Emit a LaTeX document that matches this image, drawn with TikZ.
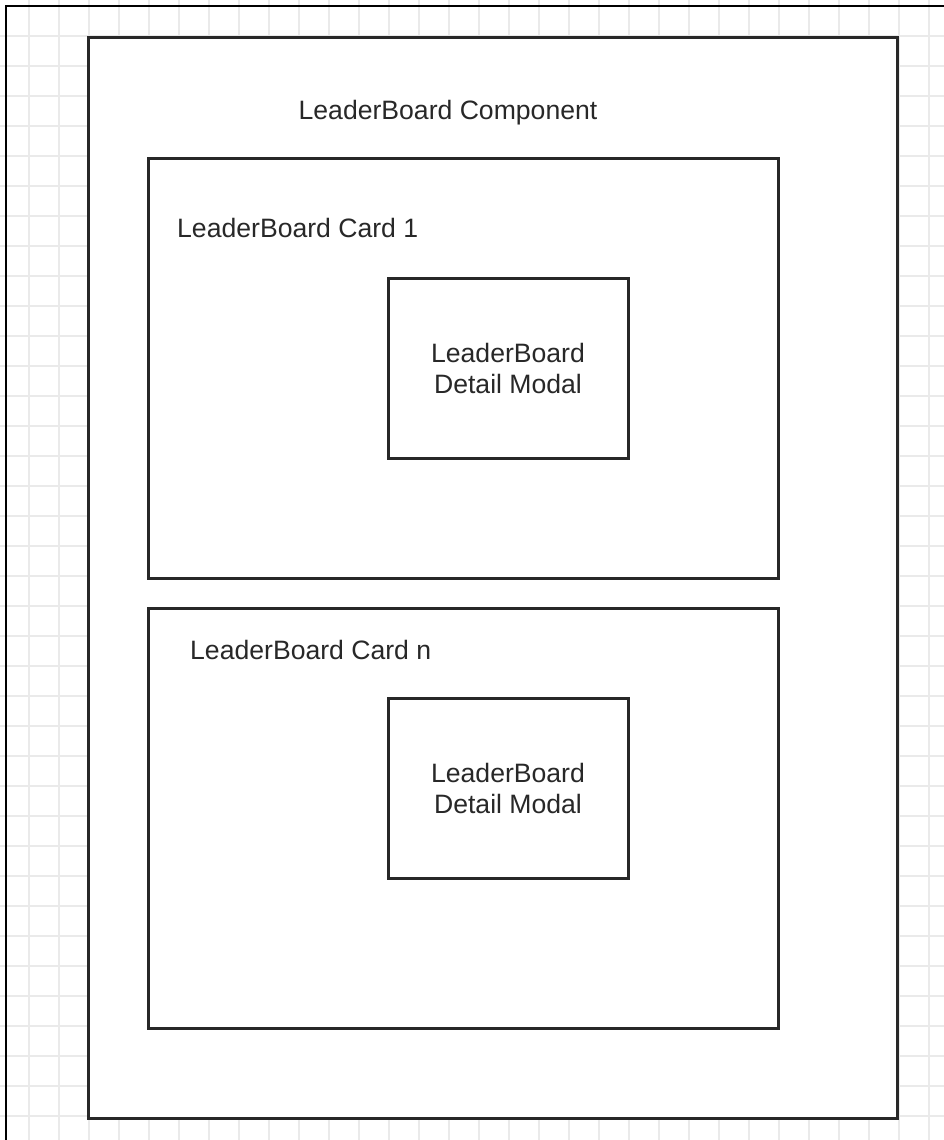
\documentclass[tikz,border=0pt]{standalone}
\usepackage{fontspec}
\setmainfont{Liberation Sans}
\usepackage{xcolor}
\usetikzlibrary{positioning}
\definecolor{boxline}{RGB}{40,40,40}
\definecolor{gridgray}{RGB}{234,234,234}
\definecolor{textgray}{RGB}{40,40,40}

\begin{document}
\begin{tikzpicture}[x=1pt, y=-1pt,
		gridline/.style={gridgray, line width=1.2pt},
		frameline/.style={black, line width=2.2pt},
		component/.style={draw=boxline, fill=white, line width=3pt, rectangle, minimum width=809pt, minimum height=1080pt, inner sep=0pt, outer sep=0pt},
		card/.style={draw=boxline, fill=white, line width=3pt, rectangle, minimum width=630pt, minimum height=420pt, inner sep=0pt, outer sep=0pt},
		modal/.style={draw=boxline, fill=white, line width=3pt, rectangle, minimum width=240pt, minimum height=180pt, inner sep=0pt, align=center, text=textgray, font=\fontsize{26.6}{31}\selectfont},
		label/.style={text=textgray, font=\fontsize{26.6}{31}\selectfont, inner sep=0pt}
		]
		\useasboundingbox (0,0) rectangle (944,1140);
		
		% background grid
		\foreach \x in {29,59,...,929}
		\draw[gridline] (\x,0) -- (\x,1140);
		\foreach \y in {36,66,...,1116}
		\draw[gridline] (0,\y) -- (944,\y);
		
		% frame
		\coordinate (topleft) at (6,6);
		\draw[frameline] (944,6) -- (topleft) -- (6,1140);
		
		\node [component](comp) at (492.5,578) {};
		\node [card](card1) at (463,368) {};
		\node [card](cardn) [below=30pt of card1] {};
		
		\node [modal](modal1) at (508,368) {LeaderBoard\\Detail Modal};
		\node [modal](modaln) at (508,788) {LeaderBoard\\Detail Modal};
		
		\node [label, anchor=base](complabel) at (448,119) {LeaderBoard Component};
		\node [label, anchor=base west](card1label) at (177,237) {LeaderBoard Card 1};
		\node [label, anchor=base west](cardnlabel) at (190,659) {LeaderBoard Card n};
		
	\end{tikzpicture}
\end{document}
